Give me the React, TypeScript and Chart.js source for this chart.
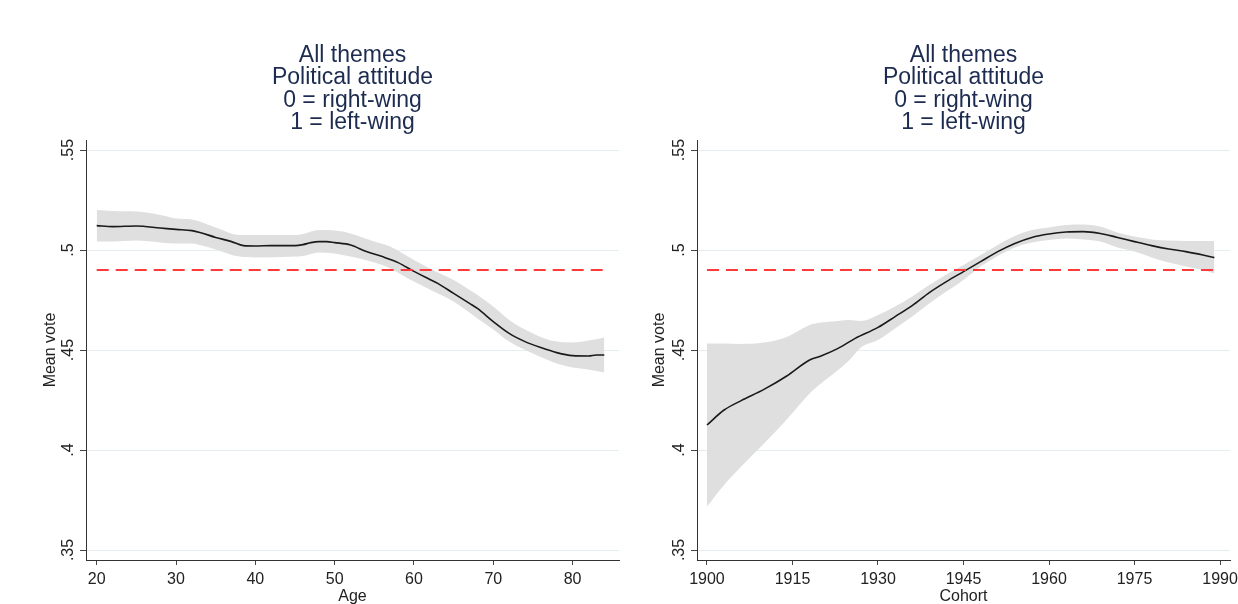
import React, { useEffect, useRef } from 'react';
import { Chart, registerables } from 'chart.js';

Chart.register(...registerables);

const FONT = '"Liberation Sans", Arial, Helvetica, sans-serif';

const titleLines = ['All themes', 'Political attitude', '0 = right-wing', '1 = left-wing'];
const yTicks = [0.35, 0.4, 0.45, 0.5, 0.55];
const yTickLabels = ['.35', '.4', '.45', '.5', '.55'];
const yTitle = 'Mean vote';
const refValue = 0.49;

// Left panel: Age
const ageTicks = [20, 30, 40, 50, 60, 70, 80];
const ageMeanX = [20, 22, 25, 28, 30, 32, 33, 35, 37, 38.5, 40, 42, 45, 46, 47, 48, 49, 50, 52, 54, 56, 58, 60, 62, 63, 65, 67, 68, 70, 72, 74, 76, 78, 80, 82, 83, 84];
const ageMean = [0.5122, 0.5117, 0.512, 0.511, 0.5103, 0.5097, 0.5088, 0.5063, 0.5042, 0.5022, 0.502, 0.5022, 0.5022, 0.5027, 0.5037, 0.5042, 0.5042, 0.5037, 0.5025, 0.4992, 0.4967, 0.4937, 0.4893, 0.4853, 0.4833, 0.4783, 0.4733, 0.4708, 0.4642, 0.4583, 0.4542, 0.4512, 0.4487, 0.4472, 0.447, 0.4475, 0.4475];
const ageBandX = [20, 22, 25, 28, 30, 32, 33, 35, 38, 40, 45, 46, 48, 50, 52, 55, 57, 60, 62, 65, 68, 70, 72, 75, 78, 80, 82, 84];
const ageUpper = [0.52, 0.5195, 0.5192, 0.5175, 0.5158, 0.5153, 0.5142, 0.5112, 0.5075, 0.5075, 0.5075, 0.508, 0.51, 0.5097, 0.5083, 0.5042, 0.5017, 0.495, 0.4908, 0.485, 0.4775, 0.4717, 0.465, 0.4583, 0.4542, 0.4538, 0.4547, 0.4563];
const ageLower = [0.5042, 0.5042, 0.5047, 0.5038, 0.5033, 0.5033, 0.5025, 0.5003, 0.4967, 0.4963, 0.4967, 0.497, 0.4988, 0.4983, 0.4967, 0.4937, 0.4908, 0.4842, 0.4803, 0.4742, 0.4658, 0.4603, 0.4542, 0.4483, 0.4433, 0.4413, 0.4403, 0.4387];

// Right panel: Cohort
const cohortTicks = [1900, 1915, 1930, 1945, 1960, 1975, 1990];
const cohortMeanX = [1900, 1903, 1906, 1910, 1914, 1918, 1920, 1923, 1926, 1930, 1933, 1936, 1939, 1942, 1945, 1948, 1951, 1954, 1957, 1960, 1963, 1966, 1969, 1972, 1975, 1978, 1981, 1984, 1987, 1989];
const cohortMean = [0.4125, 0.42, 0.4247, 0.4303, 0.437, 0.445, 0.447, 0.4508, 0.4558, 0.4613, 0.4667, 0.4722, 0.4787, 0.4842, 0.4892, 0.4942, 0.4992, 0.5033, 0.5063, 0.508, 0.509, 0.5092, 0.5083, 0.5063, 0.5042, 0.5022, 0.5005, 0.4992, 0.4975, 0.4962];
const cohortBandX = [1900, 1903, 1906, 1910, 1914, 1918, 1920, 1923, 1925, 1927, 1930, 1933, 1936, 1939, 1942, 1945, 1948, 1951, 1954, 1957, 1960, 1963, 1966, 1969, 1972, 1975, 1978, 1981, 1984, 1987, 1989];
const cohortUpper = [0.4533, 0.4532, 0.453, 0.4537, 0.4565, 0.4625, 0.4637, 0.4645, 0.465, 0.4645, 0.4675, 0.4717, 0.4767, 0.4825, 0.4878, 0.4925, 0.4975, 0.5025, 0.507, 0.51, 0.5113, 0.5125, 0.5128, 0.5117, 0.5087, 0.5067, 0.5053, 0.5047, 0.5045, 0.5045, 0.5045];
const cohortLower = [0.3717, 0.3825, 0.3917, 0.4033, 0.4153, 0.4283, 0.4333, 0.44, 0.445, 0.4513, 0.455, 0.4608, 0.4667, 0.4733, 0.4792, 0.485, 0.4917, 0.497, 0.5013, 0.5037, 0.505, 0.5057, 0.5053, 0.5042, 0.5013, 0.4992, 0.4963, 0.4937, 0.4917, 0.49, 0.4883];

type PanelProps = {
  left: number;
  width: number;
  xTicks: number[];
  xMin: number;
  xMax: number;
  xTitle: string;
  meanX: number[];
  mean: number[];
  bandX: number[];
  upper: number[];
  lower: number[];
  yAxisWidth: number;
  yTitlePad: number;
  padRight: number;
};

const pts = (xs: number[], ys: number[]) => xs.map((x, i) => ({ x, y: ys[i] }));

function Panel(p: PanelProps) {
  const ref = useRef<HTMLCanvasElement>(null);
  useEffect(() => {
    if (!ref.current) return;
    const yLabelPlugin = {
      id: 'yRotLabels',
      afterDraw(chart: any) {
        const { ctx, chartArea, scales } = chart;
        const ys = scales.y;
        ctx.save();
        ctx.font = `16px ${FONT}`;
        ctx.fillStyle = '#222';
        ctx.textAlign = 'center';
        ctx.textBaseline = 'middle';
        yTicks.forEach((v, i) => {
          const py = ys.getPixelForValue(v);
          ctx.save();
          ctx.translate(chartArea.left - 17, py);
          ctx.rotate(-Math.PI / 2);
          ctx.fillText(yTickLabels[i], 0, 0);
          ctx.restore();
        });
        ctx.restore();
      },
    };
    const chart = new Chart(ref.current, {
      type: 'line',
      data: {
        datasets: [
          {
            data: pts(p.bandX, p.upper),
            borderWidth: 0,
            pointRadius: 0,
            fill: false,
            cubicInterpolationMode: 'monotone',
            order: 3,
          },
          {
            data: pts(p.bandX, p.lower),
            borderWidth: 0,
            pointRadius: 0,
            fill: '-1',
            backgroundColor: '#dfdfdf',
            cubicInterpolationMode: 'monotone',
            order: 2,
          },
          {
            data: pts(p.meanX, p.mean),
            borderColor: '#1a1a1a',
            borderWidth: 1.6,
            pointRadius: 0,
            fill: false,
            cubicInterpolationMode: 'monotone',
            order: 1,
          },
          {
            data: [
              { x: p.meanX[0], y: refValue },
              { x: p.meanX[p.meanX.length - 1], y: refValue },
            ],
            borderColor: '#ff3a3a',
            borderWidth: 2,
            borderDash: [12, 7],
            pointRadius: 0,
            fill: false,
            order: 0,
          },
        ] as any,
      },
      options: {
        animation: false,
        responsive: false,
        events: [],
        layout: { padding: { left: 0, right: p.padRight, top: 0, bottom: 0 } },
        plugins: {
          legend: { display: false },
          tooltip: { enabled: false },
          title: {
            display: true,
            text: titleLines,
            color: '#1c2b4f',
            fullSize: false,
            font: { family: FONT, size: 23, lineHeight: 0.96, weight: 'normal' },
            padding: { top: 45, bottom: 6.7 },
          },
        },
        scales: {
          x: {
            type: 'linear',
            min: p.xMin,
            max: p.xMax,
            afterBuildTicks: (s: any) => {
              s.ticks = p.xTicks.map((v) => ({ value: v }));
            },
            afterFit: (s: any) => {
              s.height = 44;
              s.paddingLeft = 0;
              s.paddingRight = 0;
            },
            ticks: {
              callback: (v: any) => String(v),
              color: '#222',
              font: { family: FONT, size: 16 },
              padding: 5,
              maxRotation: 0,
              minRotation: 0,
              autoSkip: false,
            },
            grid: {
              display: true,
              drawOnChartArea: false,
              drawTicks: true,
              tickLength: 5,
              tickColor: '#444',
            },
            border: { display: true, color: '#333', width: 1 },
            title: {
              display: true,
              text: p.xTitle,
              color: '#222',
              font: { family: FONT, size: 16, lineHeight: 1 },
              padding: { top: 0, bottom: -1 },
            },
          },
          y: {
            type: 'linear',
            min: 0.345,
            max: 0.555,
            afterBuildTicks: (s: any) => {
              s.ticks = yTicks.map((v) => ({ value: v }));
            },
            afterFit: (s: any) => {
              s.width = p.yAxisWidth;
            },
            ticks: { display: false },
            grid: {
              color: '#e4edf0',
              lineWidth: 1,
              drawTicks: true,
              tickLength: 6,
              tickColor: '#444',
            },
            border: { display: true, color: '#333', width: 1 },
            title: {
              display: true,
              text: yTitle,
              color: '#222',
              font: { family: FONT, size: 16, lineHeight: 1 },
              padding: { top: p.yTitlePad, bottom: 0 },
            },
          },
        },
      } as any,
      plugins: [yLabelPlugin],
    });
    return () => chart.destroy();
  }, []);
  return (
    <canvas
      ref={ref}
      width={p.width}
      height={604}
      style={{ position: 'absolute', left: p.left, top: 0, width: p.width, height: 604, display: 'block' }}
    />
  );
}

export default function App() {
  return (
    <div style={{ position: 'absolute', left: 0, top: 0, width: 1238, height: 604, background: '#fff', overflow: 'hidden' }}>
      <Panel
        left={0}
        width={620}
        xTicks={ageTicks}
        xMin={18.65}
        xMax={85.85}
        xTitle="Age"
        meanX={ageMeanX}
        mean={ageMean}
        bandX={ageBandX}
        upper={ageUpper}
        lower={ageLower}
        yAxisWidth={86}
        yTitlePad={43}
        padRight={1}
      />
      <Panel
        left={620}
        width={618}
        xTicks={cohortTicks}
        xMin={1898.25}
        xMax={1991.75}
        xTitle="Cohort"
        meanX={cohortMeanX}
        mean={cohortMean}
        bandX={cohortBandX}
        upper={cohortUpper}
        lower={cohortLower}
        yAxisWidth={77}
        yTitlePad={32}
        padRight={8}
      />
    </div>
  );
}
